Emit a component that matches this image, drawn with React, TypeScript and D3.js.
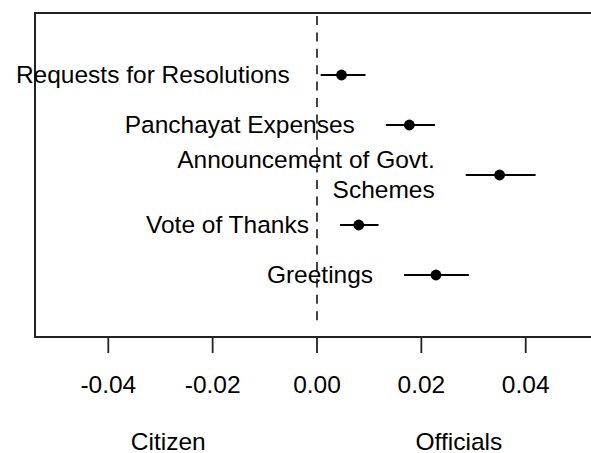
import React from "react";
import * as d3 from "d3";

const W = 591;
const H = 453;

const categories = [
  "Requests for Resolutions",
  "Panchayat Expenses",
  "Announcement of Govt.\nSchemes",
  "Vote of Thanks",
  "Greetings",
];
const estimates = [0.0047, 0.0177, 0.035, 0.008, 0.0228];
const lower = [0.0007, 0.0132, 0.0285, 0.0044, 0.0167];
const upper = [0.0093, 0.0226, 0.0419, 0.0118, 0.0291];
const yPositions = [5, 4, 3, 2, 1];
const xTicks = [-0.04, -0.02, 0, 0.02, 0.04];
const sideLabels = ["Citizen", "Officials"];
const sidePositions = [-0.0285, 0.0272];

const FONT = "'Liberation Sans', Arial, Helvetica, sans-serif";
const FS = 24.5;

export default function App() {
  const x = d3.scaleLinear().domain([-0.04, 0.04]).range([108.3, 525.7]);
  const y = d3.scaleLinear().domain([0, 6]).range([325, 25]);
  const boxLeft = 35;
  const boxTop = y(6.24);
  const boxBottom = y(-0.24);
  const boxRight = W + 10;
  const f2 = d3.format(".2f");
  const fmt = (v: number) => f2(v).replace("\u2212", "-");

  return (
    <svg
      width={W}
      height={H}
      style={{ position: "absolute", left: 0, top: 0, background: "#fff" }}
      fontFamily={FONT}
    >
      <rect x={0} y={0} width={W} height={H} fill="#fff" />
      {/* zero reference line */}
      <line
        x1={x(0)}
        x2={x(0)}
        y1={boxTop + 3}
        y2={boxBottom - 10}
        stroke="#444"
        strokeWidth={2}
        strokeDasharray="9 7.4"
      />
      {/* box */}
      <path
        d={`M${boxRight},${boxTop}H${boxLeft}V${boxBottom}H${boxRight}`}
        fill="none"
        stroke="#222"
        strokeWidth={2}
      />
      {/* ticks */}
      {xTicks.map((t) => (
        <g key={t}>
          <line
            x1={x(t)}
            x2={x(t)}
            y1={boxBottom}
            y2={boxBottom + 16}
            stroke="#222"
            strokeWidth={1.8}
          />
          <text
            x={x(t)}
            y={392.7}
            textAnchor="middle"
            fontSize={FS}
            fill="#000"
          >
            {fmt(t)}
          </text>
        </g>
      ))}
      {sideLabels.map((s, i) => (
        <text
          key={s}
          x={x(sidePositions[i])}
          y={449.5}
          textAnchor="middle"
          fontSize={FS}
          fill="#000"
        >
          {s}
        </text>
      ))}
      {/* estimates */}
      {categories.map((c, i) => {
        const cy = y(yPositions[i]);
        const lines = c.split("\n");
        const lh = 30;
        const start = cy - ((lines.length - 1) * lh) / 2;
        return (
          <g key={c}>
            <line
              x1={x(lower[i])}
              x2={x(upper[i])}
              y1={cy}
              y2={cy}
              stroke="#000"
              strokeWidth={1.8}
            />
            <circle cx={x(estimates[i])} cy={cy} r={5.4} fill="#000" />
            {lines.map((ln, j) => (
              <text
                key={j}
                x={x(lower[i]) - 31}
                y={start + j * lh + 8}
                textAnchor="end"
                fontSize={FS}
                fill="#000"
              >
                {ln}
              </text>
            ))}
          </g>
        );
      })}
    </svg>
  );
}
